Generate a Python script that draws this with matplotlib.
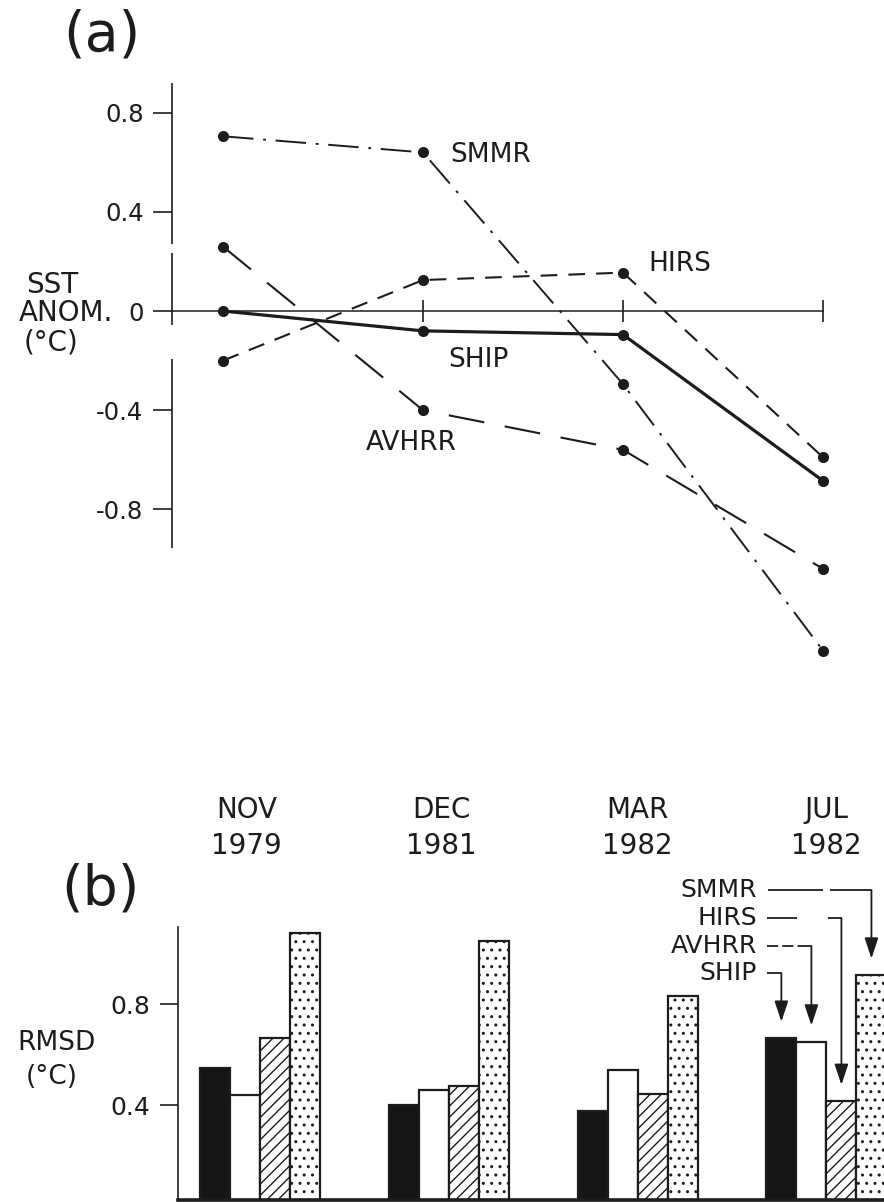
import numpy as np
import matplotlib.pyplot as plt
from matplotlib.transforms import blended_transform_factory

plt.rcParams['font.family'] = ['DejaVu Sans']
plt.rcParams['lines.scale_dashes'] = False
plt.rcParams['hatch.linewidth'] = 1.0

INK = '#1c1c1c'

months = ['NOV\n1979', 'DEC\n1981', 'MAR\n1982', 'JUL\n1982']
series = ['SHIP', 'AVHRR', 'HIRS', 'SMMR']

# (a) SST anomaly (deg C)
ship_anom = [0.0, -0.08, -0.095, -0.685]
avhrr_anom = [0.26, -0.40, -0.56, -1.04]
hirs_anom = [-0.20, 0.125, 0.155, -0.59]
smmr_anom = [0.705, 0.64, -0.295, -1.37]

# (b) RMSD (deg C)
ship_rmsd = [0.545, 0.40, 0.375, 0.665]
avhrr_rmsd = [0.44, 0.46, 0.54, 0.65]
hirs_rmsd = [0.665, 0.475, 0.445, 0.415]
smmr_rmsd = [1.08, 1.05, 0.83, 0.915]

yticks_a = [-0.8, -0.4, 0, 0.4, 0.8]
yticks_b = [0.4, 0.8]

W, H = 884, 1202
fig = plt.figure(figsize=(W / 100, H / 100), dpi=100)


def fx(px):
    return px / W


def fy(py):
    return 1 - py / H


# ---------------- panel (a) ----------------
ax_a = fig.add_axes([fx(172), fy(665), 700 / W, (665 - 83) / H])
ax_a.set_xlim(-0.255, 3.245)
ax_a.set_ylim(-1.428, 0.92)
for s in ax_a.spines.values():
    s.set_visible(False)
ax_a.set_xticks([])
ax_a.set_yticks(yticks_a)
ax_a.set_yticklabels(['-0.8', '-0.4', '0', '0.4', '0.8'])
ax_a.tick_params(axis='y', direction='out', length=13.5, width=1.2,
                 pad=7, labelsize=17.5, color=INK, labelcolor=INK)

x0 = ax_a.get_xlim()[0]
# vertical axis drawn in pieces (gaps as in the printed figure)
ax_a.vlines([x0] * 3, [0.27, -0.056, -0.956], [0.92, 0.235, -0.194],
            color=INK, lw=1.2, clip_on=False)
# zero line with ticks at each month
x = np.arange(len(months))
ax_a.plot([x0, x[-1]], [0, 0], color=INK, lw=1.1)
ax_a.vlines(x[1:], -0.045, 0.045, color=INK, lw=1.2)

styles = {
    'SHIP': dict(ls='-', lw=2.3),
    'AVHRR': dict(ls=(0, (26, 15)), lw=1.5),
    'HIRS': dict(ls=(0, (12, 8)), lw=1.5),
    'SMMR': dict(ls=(0, (22, 7, 2, 7)), lw=1.4),
}
anom = {'SHIP': ship_anom, 'AVHRR': avhrr_anom, 'HIRS': hirs_anom, 'SMMR': smmr_anom}
for name in series:
    ax_a.plot(x, anom[name], color=INK, marker='o', ms=7, clip_on=False,
              **styles[name])

label_pos = {'SMMR': (1.135, 0.63), 'HIRS': (2.125, 0.19),
             'SHIP': (1.125, -0.198), 'AVHRR': (0.715, -0.532)}
for name, (lx, ly) in label_pos.items():
    ax_a.text(lx, ly, name, fontsize=19, color=INK, ha='left', va='center')

fig.text(fx(102), fy(36), '(a)', fontsize=40, color=INK, ha='center', va='center')
fig.text(fx(52), fy(285), 'SST', fontsize=20, color=INK, ha='center', va='center')
fig.text(fx(66), fy(313), 'ANOM.', fontsize=20, color=INK, ha='center', va='center')
fig.text(fx(51), fy(342), '(°C)', fontsize=20, color=INK, ha='center', va='center')

# ---------------- panel (b) ----------------
ax_b = fig.add_axes([fx(178), fy(1200), (W - 178) / W, 273 / H])
ax_b.set_xlim(-0.434, 3.305)
ax_b.set_ylim(0.024, 1.105)
ax_b.spines['top'].set_visible(False)
ax_b.spines['right'].set_visible(False)
ax_b.spines['left'].set_linewidth(1.2)
ax_b.spines['bottom'].set_linewidth(2.6)
ax_b.spines['left'].set_color(INK)
ax_b.spines['bottom'].set_color(INK)
ax_b.set_xticks([])
ax_b.set_yticks(yticks_b)
ax_b.set_yticklabels(['0.4', '0.8'])
ax_b.tick_params(axis='y', direction='out', length=13, width=1.2,
                 pad=7, labelsize=18, color=INK, labelcolor=INK)

w = 0.159
rmsd = {'SHIP': ship_rmsd, 'AVHRR': avhrr_rmsd, 'HIRS': hirs_rmsd, 'SMMR': smmr_rmsd}
fills = {'SHIP': ('#151515', None), 'AVHRR': ('white', None),
         'HIRS': ('white', '///'), 'SMMR': ('white', '..')}
for k, name in enumerate(series):
    fc, hatch = fills[name]
    ax_b.bar(x + (k - 1.5) * w, rmsd[name], w, color=fc, edgecolor=INK,
             lw=1.6, hatch=hatch)

# month labels sit a little left of the group centres in the original
label_shift = [-0.07, -0.04, 0.0, 0.0]
trans = blended_transform_factory(ax_b.transData, ax_b.transAxes)
for i, m in enumerate(months):
    ax_b.text(x[i] + label_shift[i], (1200 - 828) / 273, m, transform=trans,
              fontsize=20, color=INK, ha='center', va='center', linespacing=1.4)

fig.text(fx(100), fy(889), '(b)', fontsize=40, color=INK, ha='center', va='center')
fig.text(fx(56), fy(1043), 'RMSD', fontsize=19, color=INK, ha='center', va='center')
fig.text(fx(52), fy(1077), '(°C)', fontsize=19, color=INK, ha='center', va='center')


# legend with arrows pointing to the JUL 1982 bars
def px2x(px):
    return (px - 260) / 188.8


def py2y(py):
    return (1206 - py) / 252.5


rows = {'SHIP': 973, 'AVHRR': 946, 'HIRS': 918, 'SMMR': 890}
# leading strokes after each name: (start px, end px, linestyle)
lead = {'SHIP': [(767, None, '-')],
        'AVHRR': [(767, 800, (0, (8, 3))), (800, None, '-')],
        'HIRS': [(767, 797, '-'), (828, None, '-')],
        'SMMR': [(768, 823, '-'), (830, None, '-')]}
for k, name in enumerate(series):
    yr = py2y(rows[name])
    xc = x[-1] + (k - 1.5) * w
    tip = rmsd[name][-1] + 0.065
    ax_b.text(px2x(757), yr, name, fontsize=18, color=INK, ha='right', va='center')
    for a, b, ls in lead[name]:
        xe = xc if b is None else px2x(b)
        ax_b.plot([px2x(a), xe], [yr, yr], color=INK, lw=1.3, ls=ls,
                  clip_on=False, solid_capstyle='butt')
    ax_b.annotate('', xy=(xc, tip), xytext=(xc, yr), annotation_clip=False,
                  arrowprops=dict(arrowstyle='-|>,head_length=0.9,head_width=0.3',
                                  mutation_scale=14, lw=1.3, color=INK,
                                  shrinkA=0, shrinkB=0))

fig.savefig('out.png', dpi=100, facecolor='white')
